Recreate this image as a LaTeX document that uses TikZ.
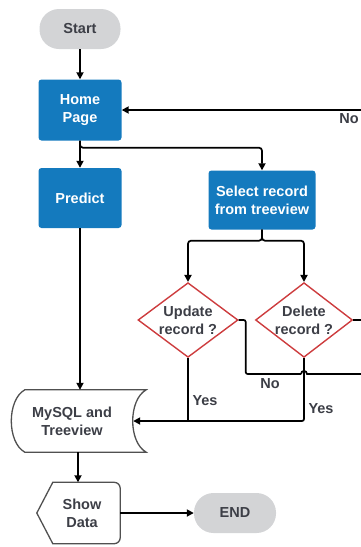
\documentclass[tikz,border=0pt]{standalone}
\usepackage{fontspec}
\setmainfont{Liberation Sans}
\usetikzlibrary{arrows.meta,positioning,calc,shapes.geometric}
\definecolor{boxblue}{RGB}{20,122,190}
\definecolor{termgray}{RGB}{211,212,214}
\definecolor{decred}{RGB}{205,60,62}
\definecolor{inkgray}{RGB}{60,62,70}
\definecolor{edgegray}{RGB}{80,80,80}

\begin{document}
\begin{tikzpicture}[x=1pt,y=-1pt,
    font=\bfseries\fontsize{14.5}{18}\selectfont,
    procbox/.style={fill=boxblue,text=white,rounded corners=3pt,minimum width=83pt,minimum height=61pt,align=center,inner sep=0pt},
    termbox/.style={fill=termgray,text=inkgray,rounded corners=19.5pt,minimum width=81pt,minimum height=40pt,inner sep=0pt},
    decbox/.style={diamond,draw=decred,line width=1.4pt,text=inkgray,minimum width=100pt,minimum height=65pt,inner sep=-3pt,align=center},
    databox/.style={text=inkgray,align=center,inner sep=0pt},
    outline/.style={draw=edgegray,line width=1.3pt},
    flow/.style={line width=1.7pt,-{Triangle[length=7pt,width=7pt]}},
    link/.style={line width=1.7pt},
    lbl/.style={text=inkgray,inner sep=0pt}]
  \useasboundingbox (0,0) rectangle (361,547);

  % nodes
  \node[termbox] (start) at (80,29) {Start};
  \node[procbox] (home) at (80,110) {Home\\Page};
  \node[procbox,minimum height=60pt] (predict) at (80,198) {Predict};
  \node[procbox,minimum width=107pt,minimum height=59pt] (select) at (262,200) {Select record\\from treeview};
  \node[decbox] (upd) at (188,320) {Update\\record ?};
  \node[decbox,minimum width=97pt] (del) at (304,320) {Delete\\record ?};
  \node[databox,minimum width=122pt,minimum height=62pt] (db) at (72,421) {MySQL and\\Treeview};
  \node[databox,minimum width=76pt,minimum height=61pt] (show) at (82,513) {Show\\Data};
  \node[termbox,minimum width=82pt] (end) at (235,513) {END};

  % outlines
  \draw[outline] ($(db.north west)+(14,0)$) -- ($(db.north east)+(13,0)$)
    .. controls ($(db.north east)+(-5,10)$) and ($(db.south east)+(-5,-10)$) .. ($(db.south east)+(13,0)$)
    -- ($(db.south west)+(14,0)$)
    .. controls ($(db.south west)+(-4,-10)$) and ($(db.north west)+(-4,10)$) .. cycle;
  \draw[outline] ($(show.west)+(-7,0)$) -- ($(show.north west)+(9,0)$)
    [rounded corners=6pt] -- (show.north east) -- (show.south east)
    [sharp corners] -- ($(show.south west)+(9,0)$) -- cycle;

  % free ends at the right edge, and the hop
  \coordinate (homeno) at (361,110);
  \coordinate (delno) at (361,320);
  \coordinate (updno) at (361,374);
  \coordinate (hop) at (del.south |- updno);
  \coordinate (hopl) at ($(hop)+(-3,0)$);
  \coordinate (hopr) at ($(hop)+(3,0)$);

  % connectors
  \draw[flow] (start) -- (home);
  \draw[flow] (home) -- (predict);
  \draw[flow,rounded corners=3pt] (home.south) -- ++(0,7) -| (select.north);
  \draw[flow,rounded corners=3pt] (select.south) -- ++(0,11) -| (upd.north);
  \draw[flow,rounded corners=3pt] (select.south) -- ++(0,11) -| (del.north);
  \draw[flow] (homeno) -- (home.east);
  \draw[link] (del.east) -- (delno);
  \draw[link,rounded corners=2pt] (upd.east) -- ++(7,0) |- (hopl);
  \draw[link] (hopl) .. controls ($(hopl)+(0,-4)$) and ($(hopr)+(0,-4)$) .. (hopr) -- (updno);
  \draw[link] (upd.south) -- (upd.south |- db.east);
  \draw[flow,rounded corners=2pt] (del.south) |- (db.east);
  \draw[flow] (predict.south) -- (predict.south |- db.north);
  \draw[flow] ($(db.south)+(6,0)$) -- ($(show.north)+(-4,0)$);
  \draw[flow] (show.east) -- (end.west);

  % labels
  \node[lbl] (nohome) at (349,119) {No};
  \node[lbl] (noupd) at (270,384) {No};
  \node[lbl] (yesupd) at (205,401) {Yes};
  \node[lbl] (yesdel) at (321,409) {Yes};
\end{tikzpicture}
\end{document}
